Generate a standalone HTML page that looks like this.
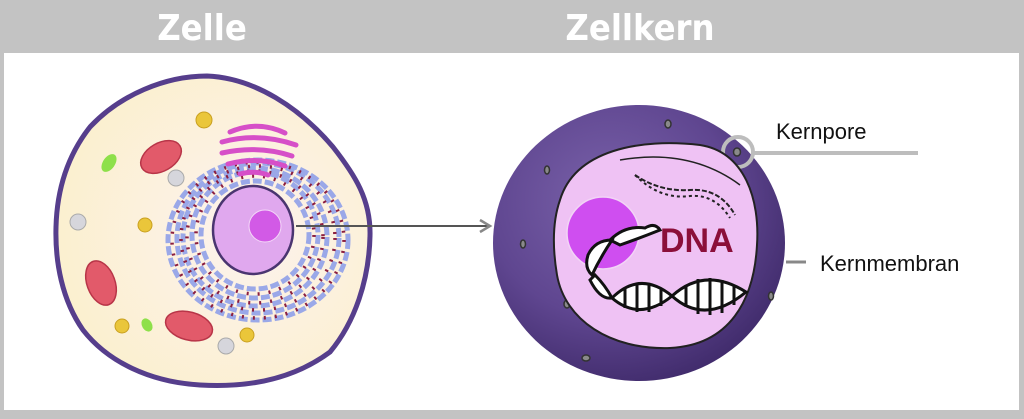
<!DOCTYPE html>
<html><head><meta charset="utf-8"><style>
body{margin:0;width:1024px;height:414px;background:#c3c3c3;overflow:hidden;font-family:"Liberation Sans",sans-serif}
</style></head><body>
<svg width="1024" height="414" viewBox="0 0 1024 414" xmlns="http://www.w3.org/2000/svg">
<defs>
<radialGradient id="sp" cx="0.4" cy="0.35" r="0.7">
<stop offset="0" stop-color="#7a62aa"/><stop offset="0.6" stop-color="#5f4690"/><stop offset="1" stop-color="#3f2a6a"/>
</radialGradient>
<radialGradient id="cy" cx="0.6" cy="0.5" r="0.6">
<stop offset="0" stop-color="#fdf2ee"/><stop offset="1" stop-color="#fbf0cf"/>
</radialGradient>
</defs>
<rect x="0" y="0" width="1024" height="414" fill="#c3c3c3"/>
<rect x="4" y="53" width="1015" height="357" fill="#fff"/>
<text x="202" y="40" font-size="36" font-weight="bold" fill="#fff" text-anchor="middle" font-family="DejaVu Sans Condensed, Liberation Sans, sans-serif">Zelle</text>
<text x="640" y="40" font-size="36" font-weight="bold" fill="#fff" text-anchor="middle" font-family="DejaVu Sans Condensed, Liberation Sans, sans-serif">Zellkern</text>

<!-- Cell -->
<path d="M207,76 C255,78 300,108 333,147 C355,175 371,200 370,236 C369,280 355,322 330,352 C295,378 250,388 200,385 C150,382 108,362 83,330 C62,300 55,262 56,227 C57,188 68,155 90,127 C120,95 165,76 207,76 Z" fill="url(#cy)" stroke="#563e8c" stroke-width="5"/>
<g fill="none" stroke="#9aa8e8" stroke-width="5" stroke-dasharray="9 3">
<ellipse cx="255" cy="235" rx="54" ry="54"/>
<ellipse cx="255" cy="235" rx="63" ry="63"/>
<ellipse cx="255" cy="237" rx="72" ry="69"/>
<ellipse cx="258" cy="238" rx="81" ry="75"/>
<ellipse cx="258" cy="240" rx="90" ry="80"/>
</g>
<g fill="none" stroke="#8b1e3f" stroke-width="3.5" stroke-dasharray="2 9">
<ellipse cx="255" cy="235" rx="59" ry="59"/>
<ellipse cx="255" cy="237" rx="68" ry="66"/>
<ellipse cx="258" cy="238" rx="77" ry="72"/>
<ellipse cx="258" cy="240" rx="86" ry="78"/>
</g>
<g fill="none" stroke="#d64fc8" stroke-width="5" stroke-linecap="round">
<path d="M230,132 Q258,120 285,133"/>
<path d="M222,142 Q258,132 296,145"/>
<path d="M222,153 Q258,145 292,156"/>
<path d="M228,164 Q258,156 285,166"/>
<path d="M240,174 Q255,170 268,175"/>
</g>
<ellipse cx="253" cy="230" rx="40" ry="44" fill="#e0a8ee" stroke="#4a3570" stroke-width="2.5"/>
<circle cx="265" cy="226" r="16" fill="#d25ae6" stroke="#f4d8f8" stroke-width="1"/>
<g fill="#eac63a" stroke="#c9a020" stroke-width="1">
<circle cx="204" cy="120" r="8"/><circle cx="145" cy="225" r="7"/><circle cx="122" cy="326" r="7"/><circle cx="247" cy="335" r="7"/>
</g>
<g fill="#d6d6dc" stroke="#aaa" stroke-width="1">
<circle cx="176" cy="178" r="8"/><circle cx="78" cy="222" r="8"/><circle cx="226" cy="346" r="8"/>
</g>
<g fill="#e25a6a" stroke="#b83548" stroke-width="1.5">
<ellipse cx="161" cy="157" rx="22" ry="14" transform="rotate(-30 161 157)"/>
<ellipse cx="101" cy="283" rx="14" ry="23" transform="rotate(-20 101 283)"/>
<ellipse cx="189" cy="326" rx="24" ry="14" transform="rotate(15 189 326)"/>
</g>
<g fill="#8ee04a"><ellipse cx="109" cy="163" rx="6" ry="10" transform="rotate(35 109 163)"/><ellipse cx="147" cy="325" rx="5" ry="7" transform="rotate(-30 147 325)"/></g>
<line x1="296" y1="226" x2="488" y2="226" stroke="#555" stroke-width="2"/>
<path d="M480,220 L490,226 L480,232" fill="none" stroke="#888" stroke-width="2.5"/>

<!-- Nucleus sphere -->
<ellipse cx="639" cy="243" rx="146" ry="138" fill="url(#sp)"/>
<g fill="#8a8a8a" stroke="#333" stroke-width="1.5">
<ellipse cx="668" cy="124" rx="3" ry="4"/><ellipse cx="547" cy="170" rx="2.5" ry="4"/><ellipse cx="523" cy="244" rx="2.5" ry="4"/>
<ellipse cx="567" cy="304" rx="3" ry="4"/><ellipse cx="586" cy="358" rx="4" ry="3"/><ellipse cx="771" cy="296" rx="2.5" ry="4"/><ellipse cx="737" cy="152" rx="3.5" ry="4"/>
</g>
<circle cx="738" cy="152" r="15" fill="none" stroke="#bdbdbd" stroke-width="4"/>
<line x1="753" y1="153" x2="918" y2="153" stroke="#bdbdbd" stroke-width="4"/>
<text x="776" y="139" font-size="22" fill="#111">Kernpore</text>
<line x1="786" y1="262" x2="806" y2="262" stroke="#888" stroke-width="3"/>
<text x="820" y="271" font-size="22" fill="#111">Kernmembran</text>
<path d="M560,200 C575,150 640,138 700,145 C745,152 760,200 757,245 C754,300 730,345 670,348 C610,350 565,320 557,275 C552,245 553,220 560,200 Z" fill="#efc2f4" stroke="#222" stroke-width="2"/>
<path d="M620,160 Q690,148 740,185" fill="none" stroke="#222" stroke-width="1.5"/>
<circle cx="603" cy="233" r="36" fill="#cf4ef0" stroke="#f2d4f6" stroke-width="1.5"/>
<g fill="none" stroke="#222" stroke-width="2">
<path d="M635,175 Q660,192 690,190 Q720,188 735,215" stroke-dasharray="5 2"/>
<path d="M635,175 Q660,200 690,196 Q715,194 730,218" stroke-dasharray="3 3"/>
</g>
<g stroke="#111" stroke-width="3" fill="#fff">
<path d="M610,240 Q625,225 645,228 Q655,222 660,230 Q640,238 620,245 Z"/>
<path d="M588,255 Q595,240 612,240 Q600,258 592,275 Q584,268 588,255 Z"/>
<path d="M590,280 Q600,300 612,298 Q605,285 595,275 Z"/>
<path d="M612,298 Q640,270 672,296 Q640,322 612,298 Z"/>
<path d="M672,296 Q705,266 746,292 Q705,326 672,296 Z"/>
</g>
<g stroke="#111" stroke-width="3">
<line x1="625" y1="288" x2="625" y2="308"/><line x1="637" y1="283" x2="637" y2="312"/><line x1="649" y1="283" x2="649" y2="312"/><line x1="661" y1="288" x2="661" y2="306"/>
<line x1="686" y1="285" x2="686" y2="307"/><line x1="698" y1="279" x2="698" y2="314"/><line x1="710" y1="278" x2="710" y2="315"/><line x1="722" y1="280" x2="722" y2="313"/><line x1="734" y1="285" x2="734" y2="305"/>
</g>
<text x="660" y="252" font-size="34" font-weight="bold" fill="#8b0f3a">DNA</text>
</svg>
</body></html>
